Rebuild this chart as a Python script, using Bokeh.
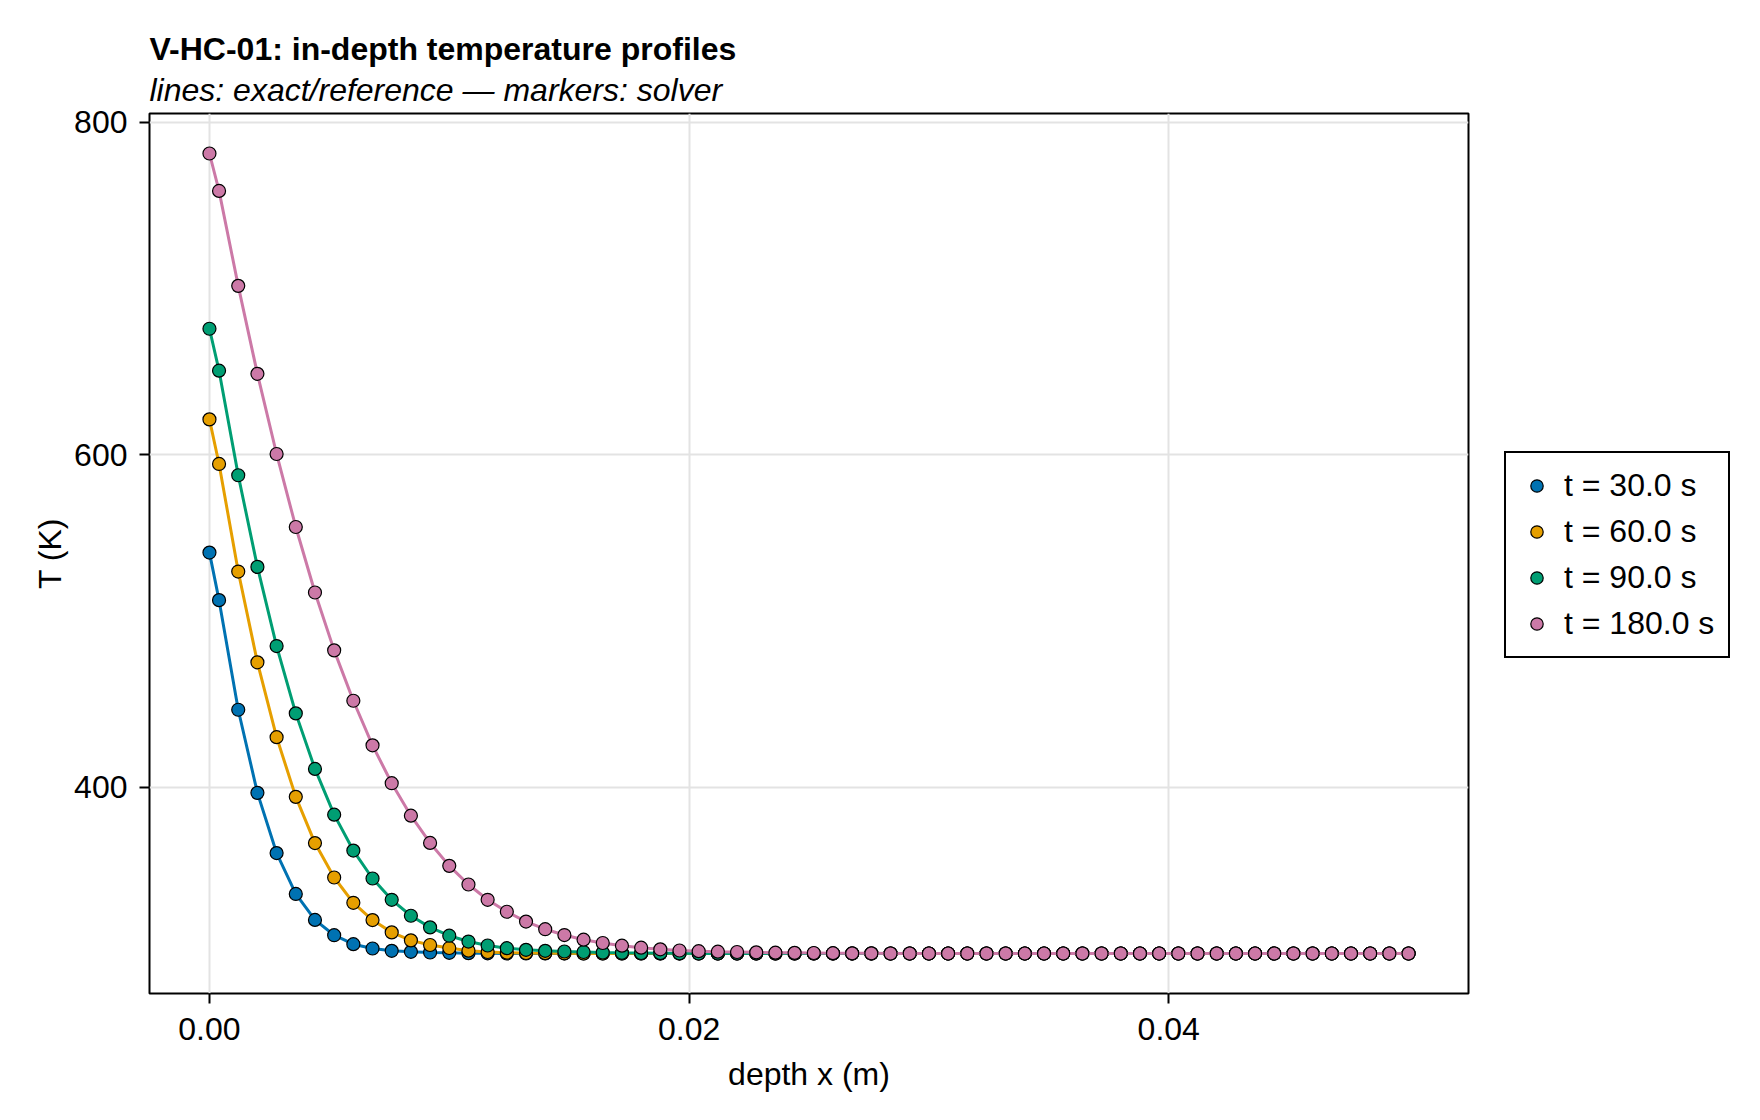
from bokeh.plotting import figure
from bokeh.layouts import row
from bokeh.models import Range1d, FixedTicker, Legend, LegendItem, Title, NumeralTickFormatter
from bokeh.embed import file_html
from bokeh.resources import INLINE

# depth positions (m)
depth = [
    0.0, 0.0004, 0.0012, 0.0020, 0.0028, 0.0036, 0.0044, 0.0052,
    0.0060, 0.0068, 0.0076, 0.0084, 0.0092, 0.0100, 0.0108, 0.0116,
    0.0124, 0.0132, 0.0140, 0.0148, 0.0156, 0.0164, 0.0172, 0.0180,
    0.0188, 0.0196, 0.0204, 0.0212, 0.0220, 0.0228, 0.0236, 0.0244,
    0.0252, 0.0260, 0.0268, 0.0276, 0.0284, 0.0292, 0.0300, 0.0308,
    0.0316, 0.0324, 0.0332, 0.0340, 0.0348, 0.0356, 0.0364, 0.0372,
    0.0380, 0.0388, 0.0396, 0.0404, 0.0412, 0.0420, 0.0428, 0.0436,
    0.0444, 0.0452, 0.0460, 0.0468, 0.0476, 0.0484, 0.0492, 0.0500,
]

T_30 = [
    541.1, 512.5, 446.6, 396.6, 360.4, 335.8, 320.2, 311.0,
    305.6, 303.0, 301.6, 301.0, 300.6, 300.4, 300.2, 300.1,
    300.0, 300.0, 300.0, 300.0, 300.0, 300.0, 300.0, 300.0,
    300.0, 300.0, 300.0, 300.0, 300.0, 300.0, 300.0, 300.0,
    300.0, 300.0, 300.0, 300.0, 300.0, 300.0, 300.0, 300.0,
    300.0, 300.0, 300.0, 300.0, 300.0, 300.0, 300.0, 300.0,
    300.0, 300.0, 300.0, 300.0, 300.0, 300.0, 300.0, 300.0,
    300.0, 300.0, 300.0, 300.0, 300.0, 300.0, 300.0, 300.0,
]

T_60 = [
    621.2, 594.4, 529.7, 475.1, 430.1, 394.2, 366.4, 345.7,
    330.5, 320.1, 312.7, 307.9, 305.1, 303.3, 301.7, 300.9,
    300.5, 300.3, 300.2, 300.1, 300.0, 300.0, 300.0, 300.0,
    300.0, 300.0, 300.0, 300.0, 300.0, 300.0, 300.0, 300.0,
    300.0, 300.0, 300.0, 300.0, 300.0, 300.0, 300.0, 300.0,
    300.0, 300.0, 300.0, 300.0, 300.0, 300.0, 300.0, 300.0,
    300.0, 300.0, 300.0, 300.0, 300.0, 300.0, 300.0, 300.0,
    300.0, 300.0, 300.0, 300.0, 300.0, 300.0, 300.0, 300.0,
]

T_90 = [
    675.7, 650.5, 587.6, 532.5, 484.9, 444.4, 411.0, 383.5,
    361.9, 345.1, 332.3, 322.7, 315.7, 310.7, 307.2, 304.8,
    303.2, 302.2, 301.6, 301.2, 300.9, 300.6, 300.4, 300.3,
    300.2, 300.1, 300.0, 300.0, 300.0, 300.0, 300.0, 300.0,
    300.0, 300.0, 300.0, 300.0, 300.0, 300.0, 300.0, 300.0,
    300.0, 300.0, 300.0, 300.0, 300.0, 300.0, 300.0, 300.0,
    300.0, 300.0, 300.0, 300.0, 300.0, 300.0, 300.0, 300.0,
    300.0, 300.0, 300.0, 300.0, 300.0, 300.0, 300.0, 300.0,
]

T_180 = [
    781.1, 758.6, 701.5, 648.6, 600.4, 556.5, 517.1, 482.3,
    452.0, 425.2, 402.4, 382.9, 366.5, 352.7, 341.5, 332.3,
    325.1, 319.2, 314.6, 311.1, 308.3, 306.3, 304.7, 303.5,
    302.5, 301.8, 301.4, 301.1, 300.9, 300.7, 300.5, 300.4,
    300.3, 300.2, 300.1, 300.1, 300.0, 300.0, 300.0, 300.0,
    300.0, 300.0, 300.0, 300.0, 300.0, 300.0, 300.0, 300.0,
    300.0, 300.0, 300.0, 300.0, 300.0, 300.0, 300.0, 300.0,
    300.0, 300.0, 300.0, 300.0, 300.0, 300.0, 300.0, 300.0,
]

labels = ["t = 30.0 s", "t = 60.0 s", "t = 90.0 s", "t = 180.0 s"]
series = [T_30, T_60, T_90, T_180]
colors = ["#0072B2", "#E69F00", "#009E73", "#CC79A7"]

x_ticks = [0.0, 0.02, 0.04]
y_ticks = [400, 600, 800]

FONT = "Liberation Sans"

xmin, xmax = min(depth), max(depth)
ymin = min(min(s) for s in series)
ymax = max(max(s) for s in series)
xpad = 0.05 * (xmax - xmin)
ypad = 0.05 * (ymax - ymin)

p = figure(
    width=1480, height=1120,
    output_backend="svg", toolbar_location=None,
    x_range=Range1d(xmin - xpad, xmax + xpad),
    y_range=Range1d(ymin - ypad, ymax + ypad),
    min_border_left=149, min_border_right=12,
    min_border_top=113, min_border_bottom=127,
)
p.background_fill_color = "white"
p.border_fill_color = "white"
p.outline_line_color = "black"
p.outline_line_width = 2

# titles (subtitle added first so it sits closest to the frame)
sub = Title(text="lines: exact/reference \u2014 markers: solver", align="left",
            text_font=FONT, text_font_size="32px", text_font_style="italic",
            text_color="black", standoff=11)
main = Title(text="V-HC-01: in-depth temperature profiles", align="left",
             text_font=FONT, text_font_size="32px", text_font_style="bold",
             text_color="black", standoff=-5)
p.add_layout(sub, "above")
p.add_layout(main, "above")

for ax in (p.xaxis[0], p.yaxis[0]):
    ax.axis_line_color = None
    ax.major_tick_line_color = "black"
    ax.major_tick_line_width = 2
    ax.major_tick_out = 10
    ax.major_tick_in = 0
    ax.minor_tick_line_color = None
    ax.major_label_text_font = FONT
    ax.major_label_text_font_size = "32px"
    ax.major_label_text_color = "black"
    ax.axis_label_text_font = FONT
    ax.axis_label_text_font_size = "32px"
    ax.axis_label_text_font_style = "normal"
    ax.axis_label_text_color = "black"

p.xaxis[0].major_label_standoff = 14
p.xaxis[0].axis_label_standoff = 13
p.yaxis[0].major_label_standoff = 12
p.yaxis[0].axis_label_standoff = 3

p.xaxis[0].ticker = FixedTicker(ticks=x_ticks)
p.yaxis[0].ticker = FixedTicker(ticks=y_ticks)
p.xaxis[0].formatter = NumeralTickFormatter(format="0.00")
p.xaxis[0].axis_label = "depth x (m)"
p.yaxis[0].axis_label = "T (K)"

p.xgrid.grid_line_color = "#e3e3e3"
p.ygrid.grid_line_color = "#e3e3e3"
p.xgrid.grid_line_width = 2
p.ygrid.grid_line_width = 2

for vals, col in zip(series, colors):
    p.line(depth, vals, line_color=col, line_width=3)
    p.scatter(depth, vals, size=13, fill_color=col, line_color="black", line_width=1.2)

# separate legend panel to the right of the axes
lp = figure(
    width=280, height=1120,
    output_backend="svg", toolbar_location=None,
    x_axis_type=None, y_axis_type=None,
    x_range=Range1d(0, 1), y_range=Range1d(0, 1),
    min_border_left=0, min_border_right=0, min_border_top=0, min_border_bottom=0,
)
lp.outline_line_color = None
lp.background_fill_color = "white"
lp.border_fill_color = "white"
lp.xgrid.visible = False
lp.ygrid.visible = False

items = []
for lab, vals, col in zip(labels, series, colors):
    r = lp.scatter(depth, vals, size=13, fill_color=col, line_color="black", line_width=1.2)
    r.visible = False
    items.append(LegendItem(label=lab, renderers=[r]))

legend = Legend(
    items=items, location=(24, 335),
    border_line_color="black", border_line_width=2, border_line_alpha=1.0,
    background_fill_color="white", background_fill_alpha=1.0,
    inactive_fill_alpha=0.0,
    padding=14, spacing=9, margin=0,
    glyph_width=33, glyph_height=31, label_height=36, label_standoff=11,
    label_text_font=FONT, label_text_font_size="32px", label_text_color="black",
)
lp.add_layout(legend, "center")

layout = row(p, lp, spacing=0)
open("out.html", "w").write(file_html(layout, INLINE))
